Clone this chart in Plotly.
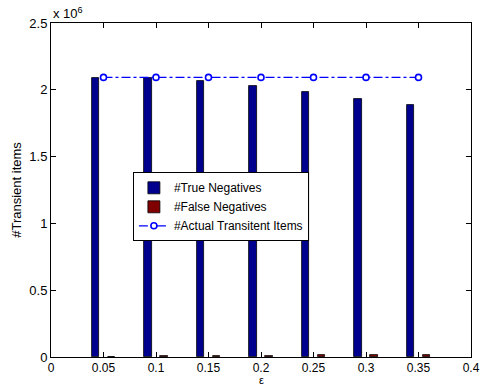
import plotly.graph_objects as go

eps = [0.05, 0.10, 0.15, 0.20, 0.25, 0.30, 0.35]
true_neg = [2.090e6, 2.090e6, 2.068e6, 2.028e6, 1.983e6, 1.931e6, 1.884e6]
false_neg = [1500, 4000, 7000, 10000, 12500, 15000, 17500]
actual = [2.093e6] * 7

y_ticks = [0, 0.5e6, 1.0e6, 1.5e6, 2.0e6, 2.5e6]
y_labels = ["0", "0.5", "1", "1.5", "2", "2.5"]
x_ticks = [0, 0.05, 0.1, 0.15, 0.2, 0.25, 0.3, 0.35, 0.4]
x_labels = ["0", "0.05", "0.1", "0.15", "0.2", "0.25", "0.3", "0.35", "0.4"]

font = dict(family="Liberation Sans, Arial, sans-serif", size=13, color="black")

fig = go.Figure()
fig.add_trace(go.Bar(x=eps, y=true_neg, name="#True Negatives",
                     width=0.0068, offset=-0.0110,
                     marker=dict(color="#00008F", line=dict(color="black", width=0.8))))
fig.add_trace(go.Bar(x=eps, y=false_neg, name="#False Negatives",
                     width=0.0068, offset=0.0042,
                     marker=dict(color="#800000", line=dict(color="black", width=0.8))))
fig.add_trace(go.Scatter(x=eps, y=actual, name="#Actual Transitent Items",
                         mode="lines+markers",
                         line=dict(color="#0000FF", width=1.2, dash="dashdot"),
                         marker=dict(symbol="circle", size=6, color="white",
                                     line=dict(color="#0000FF", width=1.6))))

fig.update_layout(
    width=482, height=388, autosize=False,
    margin=dict(l=51, r=11, t=23, b=31, pad=0, autoexpand=False),
    paper_bgcolor="white", plot_bgcolor="white",
    font=font, barmode="overlay", bargap=0,
    showlegend=True,
    legend=dict(x=0.195, y=0.553, xanchor="left", yanchor="top",
                bgcolor="white", bordercolor="black", borderwidth=1,
                font=dict(family=font["family"], size=12, color="black"),
                tracegroupgap=0, itemwidth=30),
    xaxis=dict(range=[0, 0.4], tickvals=x_ticks, ticktext=x_labels,
               ticks="inside", ticklen=5, tickcolor="black", automargin=False,
               tickfont=dict(size=12),
               showline=True, linecolor="black", linewidth=1, mirror="ticks",
               showgrid=False, zeroline=False),
    yaxis=dict(range=[0, 2.5e6], tickvals=y_ticks, ticktext=y_labels,
               ticks="inside", ticklen=5, tickcolor="black", automargin=False,
               showline=True, linecolor="black", linewidth=1, mirror="ticks",
               showgrid=False, zeroline=False,
               title=dict(text="#Transient items", standoff=4, font=dict(size=13))),
    annotations=[
        dict(text="x 10<sup>6</sup>", xref="paper", yref="paper",
             x=0, y=1, xanchor="left", yanchor="bottom",
             showarrow=False, font=dict(size=13), yshift=0),
        dict(text="ε", xref="paper", yref="paper",
             x=0.5, y=0, xanchor="center", yanchor="top", borderpad=0,
             showarrow=False, font=dict(size=11), yshift=-16),
    ],
)

fig.write_html("out.html")
